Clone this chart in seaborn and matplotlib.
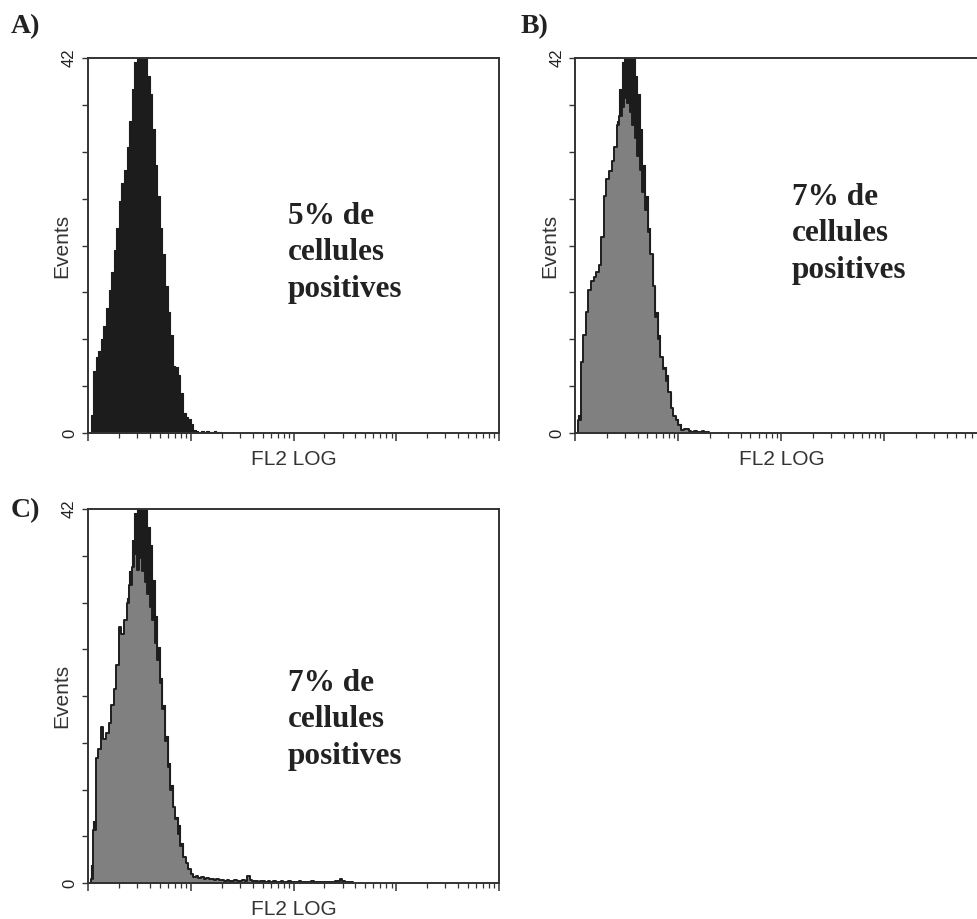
import numpy as np
import pandas as pd
import matplotlib
matplotlib.use("Agg")
import matplotlib.pyplot as plt
import seaborn as sns
from matplotlib.ticker import LogLocator, NullFormatter

sns.set_theme(style="white")
plt.rcParams["font.family"] = ["Liberation Sans", "DejaVu Sans"]

# FL2 LOG histograms: one count per channel of 0.025 decade, first channel at 10^0
bin_width = 0.025

# control (black) histogram, also shown behind panels B and C
control_counts = [
    0, 2, 7, 8.5, 9.2, 10.5, 12, 14, 16, 18,
    20.5, 23, 26, 28, 29.5, 32, 35, 38.5, 41.5, 43,
    42.5, 43, 42, 40, 38, 34, 30, 26.5, 23, 20,
    16.5, 13.5, 11, 7.5, 7.4, 6.5, 4.5, 2.2, 1.8, 1.6,
    1.0, 0.3, 0.2, 0.1, 0.2, 0.1, 0.2, 0.1, 0.1, 0.2,
    0.1, 0.1,
]

sample_b_counts = [
    0, 1.5, 8, 11, 13.5, 16, 17, 17.5, 18, 18.8,
    22, 26.5, 28.5, 29.3, 30.5, 32, 34.5, 35.5, 36.5, 37.5,
    37, 36, 34.5, 33, 31, 29.5, 27, 25, 22.5, 20,
    16.5, 13, 10.5, 8.5, 7.2, 5.8, 4.6, 2.8, 1.9, 1.5,
    0.9, 0.3, 0.4, 0.5, 0.2, 0.1, 0.2, 0.1, 0.1, 0.2,
    0.1, 0.1,
]

sample_c_counts = [
    0, 0.5, 6, 14, 15, 17.5, 16.2, 16.8, 18, 20,
    21.8, 24.5, 28.7, 28, 29.5, 31.5, 33.5, 35.5, 37, 35.2,
    36.5, 35, 33.8, 32.5, 31, 29.5, 27, 25, 22.5, 19.5,
    16, 13, 10.5, 8.5, 7.2, 5.5, 4.2, 2.9, 2.2, 1.6,
    1.0, 0.7, 0.8, 0.6, 0.7, 0.5, 0.6, 0.4, 0.5, 0.3,
    0.4, 0.3, 0.3, 0.2, 0.3, 0.2, 0.2, 0.3, 0.2, 0.2,
    0.3, 0.2, 0.8, 0.3, 0.2, 0.2, 0.1, 0.2, 0.2, 0.1,
    0.2, 0.1, 0.2, 0.1, 0.1, 0.2, 0.1, 0.1, 0.2, 0.1,
    0.1, 0.1, 0.2, 0.1, 0.1, 0.1, 0.1, 0.2, 0.1, 0.1,
    0.1, 0.1, 0.1, 0.1, 0.1, 0.1, 0.2, 0.2, 0.4, 0.2,
    0.1, 0.1, 0.1,
]

panel_labels = ["A)", "B)", "C)"]
positive_texts = ["5% de\ncellules\npositives",
                  "7% de\ncellules\npositives",
                  "7% de\ncellules\npositives"]
y_max = 42
y_ticks = np.linspace(0, y_max, 9)
y_ticklabels = ["0"] + [""] * 7 + ["42"]

W, H = 978, 919
fig = plt.figure(figsize=(W / 100, H / 100), dpi=100)
fig.patch.set_facecolor("white")

# axes boxes in pixels: left, top, width, height
boxes = [(88, 58, 411, 375), (575.5, 58, 412, 375), (88, 509, 411, 374)]
text_pos = [(288, 202), (792, 183), (288, 669)]
label_pos = [(11, 33), (521, 33), (11, 517)]

dark = "#1c1c1c"
gray = "#808080"


def draw_hist(ax, counts, face, edge, lw):
    starts = np.arange(len(counts)) * bin_width
    df = pd.DataFrame({"fl2": 10 ** (starts + bin_width / 2), "events": counts})
    sns.histplot(data=df, x="fl2", weights="events", log_scale=True,
                 binwidth=bin_width, binrange=(0, len(counts) * bin_width),
                 element="step", fill=True, color=face, alpha=1,
                 edgecolor=edge, linewidth=lw, ax=ax)


samples = [None, sample_b_counts, sample_c_counts]
for i, (l, t, w, h) in enumerate(boxes):
    ax = fig.add_axes([l / W, 1 - (t + h) / H, w / W, h / H])
    ax.set_facecolor("white")
    draw_hist(ax, control_counts, dark, dark, 0.8)
    if samples[i] is not None:
        draw_hist(ax, samples[i], gray, "#1e1e1e", 1.4)

    ax.set_xscale("log")
    ax.set_xlim(1, 1e4)
    ax.set_ylim(0, y_max)
    ax.set_xlabel("")
    ax.set_ylabel("")
    ax.xaxis.set_major_locator(LogLocator(base=10, numticks=10))
    ax.xaxis.set_minor_locator(LogLocator(base=10, subs=np.arange(2, 10), numticks=50))
    ax.xaxis.set_major_formatter(NullFormatter())
    ax.xaxis.set_minor_formatter(NullFormatter())
    ax.set_yticks(y_ticks)
    ax.set_yticklabels(y_ticklabels, rotation=90, va="center", fontsize=12, color="#222222")
    ax.tick_params(axis="y", direction="out", length=4, width=1, color="#333333", pad=4, left=True)
    ax.tick_params(axis="x", which="major", direction="out", length=6, width=1.1, color="#333333", bottom=True)
    ax.tick_params(axis="x", which="minor", direction="out", length=3.5, width=0.9, color="#333333", bottom=True)
    for s in ax.spines.values():
        s.set_visible(True)
        s.set_color("#333333")
        s.set_linewidth(1.4)

    # axis titles
    fig.text((l - 26) / W, 1 - (t + h / 2) / H, "Events", rotation=90,
             ha="center", va="center", fontsize=15, color="#333333")
    fig.text((l + w / 2) / W, 1 - (t + h + 32) / H, "FL2 LOG",
             ha="center", va="baseline", fontsize=15, color="#333333")

    # annotation and panel label
    tx, ty = text_pos[i]
    fig.text(tx / W, 1 - ty / H, positive_texts[i], ha="left", va="top",
             fontsize=22.5, fontweight="bold", family="Liberation Serif",
             color="#222222", linespacing=1.34)
    px, py = label_pos[i]
    fig.text(px / W, 1 - py / H, panel_labels[i], ha="left", va="baseline",
             fontsize=20, fontweight="bold", family="Liberation Serif", color="#222222")

fig.savefig("out.png", dpi=100, facecolor="white")
